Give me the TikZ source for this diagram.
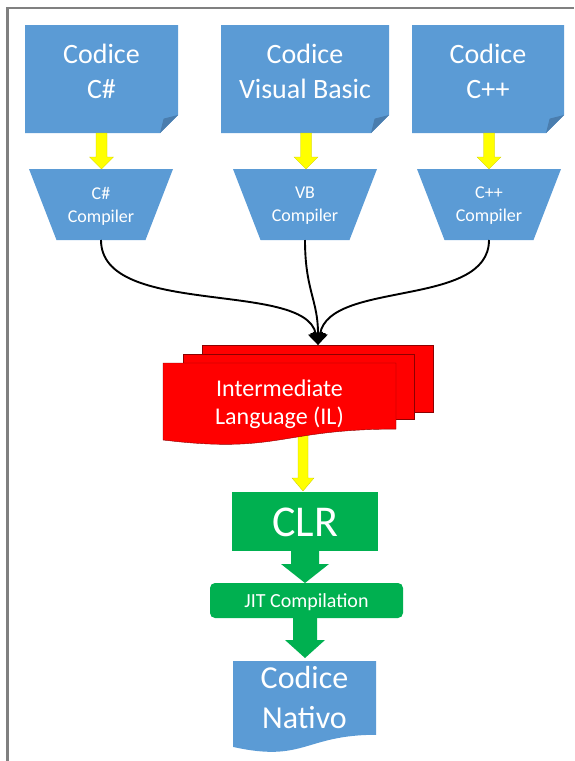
\documentclass[tikz,border=0pt]{standalone}
\usepackage{fontspec}
\setmainfont{Carlito}
\usetikzlibrary{arrows.meta}
\definecolor{cblue}{HTML}{5B9BD5}
\definecolor{cfold}{HTML}{4A7DAE}
\definecolor{cgreen}{HTML}{00B050}
\definecolor{cyel}{HTML}{FFFF00}
\definecolor{cframe}{HTML}{808080}
\tikzset{
  blueshape/.style={fill=cblue},
  foldshape/.style={fill=cfold},
  yarrow/.style={fill=cyel, draw=cyel!80!black, line width=0.3pt},
  garrow/.style={fill=cgreen},
  redpage/.style={fill=red, draw=red!55!black, line width=0.4pt},
  lbl/.style={text=white, align=center, inner sep=0pt},
  bigtxt/.style={lbl, font=\fontsize{28}{35}\selectfont},
  comptxt/.style={lbl, font=\fontsize{18}{23}\selectfont},
  conn/.style={draw=black, line width=1.9pt, -{Triangle[length=12pt,width=15pt]}},
}
\begin{document}
\begin{tikzpicture}[x=1pt,y=-1pt]
\useasboundingbox (0,0) rectangle (574,761);
% frame
\draw[cframe, line width=2.2pt] (7.5,761) -- (7.5,8) -- (574,8);

% ---- source code documents
\fill[blueshape] (25,25) -- (178,25) -- (178,115) -- (160,133) -- (25,133) -- cycle;
\fill[foldshape] (160,133) -- (163.6,118.6) -- (178,115) -- cycle;
\fill[blueshape] (221,25) -- (389,25) -- (389,115) -- (371,133) -- (221,133) -- cycle;
\fill[foldshape] (371,133) -- (374.6,118.6) -- (389,115) -- cycle;
\fill[blueshape] (412,25) -- (564,25) -- (564,115) -- (546,133) -- (412,133) -- cycle;
\fill[foldshape] (546,133) -- (549.6,118.6) -- (564,115) -- cycle;
\node[bigtxt] (src1) at (101.5,71) {Codice\\C\#};
\node[bigtxt] (src2) at (305,71) {Codice\\Visual Basic};
\node[bigtxt] (src3) at (488,71) {Codice\\C++};

% ---- yellow arrows to compilers
\foreach \c in {101.5,306,489}{
  \filldraw[yarrow] (\c-5.5,133) -- (\c+5.5,133) -- (\c+5.5,157) -- (\c+12,157)
    -- (\c,169) -- (\c-12,157) -- (\c-5.5,157) -- cycle;
}

% ---- compilers
\fill[blueshape] (29,169) -- (173,169) -- (145.5,240) -- (56.5,240) -- cycle;
\fill[blueshape] (233,169) -- (377,169) -- (349.5,240) -- (260.5,240) -- cycle;
\fill[blueshape] (417,169) -- (561,169) -- (533.5,240) -- (444.5,240) -- cycle;
\node[comptxt] (cmp1) at (101,206) {C\#\\Compiler};
\node[comptxt] (cmp2) at (305,206) {VB\\Compiler};
\node[comptxt] (cmp3) at (489,206) {C++\\Compiler};
\coordinate (cmp1out) at (101,240);
\coordinate (cmp2out) at (305,240);
\coordinate (cmp3out) at (489,240);
\coordinate (ilin) at (318,345);

% ---- curves
\draw[conn] (cmp1out) .. controls (101,318) and (305,280) .. (ilin);
\draw[conn] (cmp2out) .. controls (305,290) and (318,300) .. (ilin);
\draw[conn] (cmp3out) .. controls (489,308) and (330,280) .. (ilin);

% ---- yellow arrow IL -> CLR
\filldraw[yarrow] (298,425) -- (308,425) -- (308,478) -- (314,478) -- (303,491)
  -- (292,478) -- (298,478) -- cycle;

% ---- IL multidocument
\filldraw[redpage] (202,345) rectangle (433,412);
\filldraw[redpage] (183,354) rectangle (414,419);
\filldraw[redpage] (163,363) -- (396,363) -- (396,429.1)
  .. controls (279.5,429.1) and (279.5,454.2) .. (163,440) -- cycle;
\node[lbl, font=\fontsize{24}{28}\selectfont] (il) at (279.5,404) {Intermediate\\Language (IL)};

% ---- CLR
\fill[cgreen] (232,492) rectangle (378,551);
\node[lbl, font=\fontsize{44}{50}\selectfont] (clr) at (305,522) {CLR};
\fill[garrow] (291,550) -- (319,550) -- (319,564) -- (329,564) -- (305,583)
  -- (281,564) -- (291,564) -- cycle;

% ---- JIT
\fill[cgreen, rounded corners=5pt] (210,583) rectangle (403,618);
\node[lbl, font=\fontsize{20}{24}\selectfont, anchor=base] (jit) at (306.5,607) {JIT Compilation};
\fill[garrow] (293,617) -- (317,617) -- (317,640) -- (325,640) -- (305,658)
  -- (285,640) -- (293,640) -- cycle;

% ---- native code document
\fill[blueshape] (233,661) -- (376,661) -- (376,734.8)
  .. controls (304.5,734.8) and (304.5,762.9) .. (233,746.9) -- cycle;
\node[lbl, font=\fontsize{32}{40}\selectfont] (nat) at (304.5,697) {Codice\\Nativo};
\end{tikzpicture}
\end{document}
